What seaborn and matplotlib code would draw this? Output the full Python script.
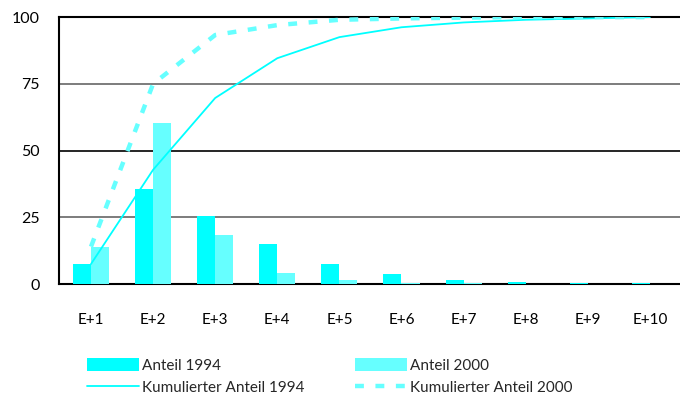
import numpy as np
import pandas as pd
import matplotlib
matplotlib.use("Agg")
import matplotlib.pyplot as plt
from matplotlib.patches import Patch
from matplotlib.lines import Line2D
import seaborn as sns

categories = ["E+1", "E+2", "E+3", "E+4", "E+5", "E+6", "E+7", "E+8", "E+9", "E+10"]
anteil_1994 = [7.5, 35.6, 25.5, 15.0, 7.5, 3.7, 1.5, 0.8, 0.3, 0.3]
anteil_2000 = [13.9, 60.3, 18.3, 4.1, 1.5, 0.3, 0.3, 0.0, 0.0, 0.0]
kum_1994 = [7.5, 42.8, 69.7, 84.6, 92.5, 96.2, 98.0, 99.0, 99.5, 100.0]
kum_2000 = [14.0, 75.0, 93.3, 97.0, 99.0, 99.5, 99.8, 100.0, 100.0, 100.0]
series_labels = ["Anteil 1994", "Anteil 2000"]
line_labels = ["Kumulierter Anteil 1994", "Kumulierter Anteil 2000"]
yticks = [0, 25, 50, 75, 100]

c1994 = "#00FFFF"
c2000 = "#66FFFF"

sns.set_theme(style="white")
plt.rcParams["font.family"] = ["Lato", "DejaVu Sans"]

df = pd.DataFrame({
    "Kategorie": categories * 2,
    "Wert": anteil_1994 + anteil_2000,
    "Serie": [series_labels[0]] * len(categories) + [series_labels[1]] * len(categories),
})

fig = plt.figure(figsize=(6.8, 3.98), dpi=100)
ax = fig.add_axes([0.0868, 0.2864, 0.9132, 0.6706])

sns.barplot(data=df, x="Kategorie", y="Wert", hue="Serie", order=categories,
            hue_order=series_labels, palette=[c1994, c2000], width=0.58,
            saturation=1, errorbar=None, legend=False, ax=ax, zorder=3)
for p in ax.patches:
    p.set_edgecolor("none")

xpos = np.arange(len(categories))
sns.lineplot(x=xpos, y=kum_1994, color=c1994, linewidth=1.3, ax=ax, zorder=4)
sns.lineplot(x=xpos, y=kum_2000, color=c2000, linewidth=3.2, ax=ax, zorder=4,
             dashes=False)
ax.lines[-1].set_dashes([2.0, 2.6])

ax.set_xlim(-0.515, 9.485)
ax.set_ylim(0, 100)
ax.set_yticks(yticks)
ax.set_yticklabels([str(v) for v in yticks], fontsize=11.5)
ax.set_xticklabels(categories, fontsize=11)
ax.set_xlabel("")
ax.set_ylabel("")
ax.tick_params(axis="both", length=0, colors="black")
ax.tick_params(axis="y", pad=14)
ax.tick_params(axis="x", pad=21)

for v, col in [(25, "#666666"), (50, "black"), (75, "#666666")]:
    ax.axhline(v, color=col, linewidth=1.2, zorder=1)

for side in ["left", "bottom", "top"]:
    ax.spines[side].set_visible(True)
    ax.spines[side].set_color("black")
    ax.spines[side].set_linewidth(1.5)
ax.spines["right"].set_visible(False)

handles = [
    Patch(facecolor=c1994, edgecolor="none"),
    Line2D([], [], color=c1994, linewidth=1.3),
    Patch(facecolor=c2000, edgecolor="none"),
    Line2D([], [], color=c2000, linewidth=3.2, dashes=[2.0, 2.6]),
]
labels = [series_labels[0], line_labels[0], series_labels[1], line_labels[1]]
fig.legend(handles, labels, loc="upper left", bbox_to_anchor=(0.128, 0.100),
           ncol=2, frameon=False, fontsize=11, handlelength=3.4,
           handleheight=0.9, handletextpad=0.2, columnspacing=3.3,
           labelspacing=0.5, borderaxespad=0, borderpad=0)

fig.savefig("out.png", dpi=100)
